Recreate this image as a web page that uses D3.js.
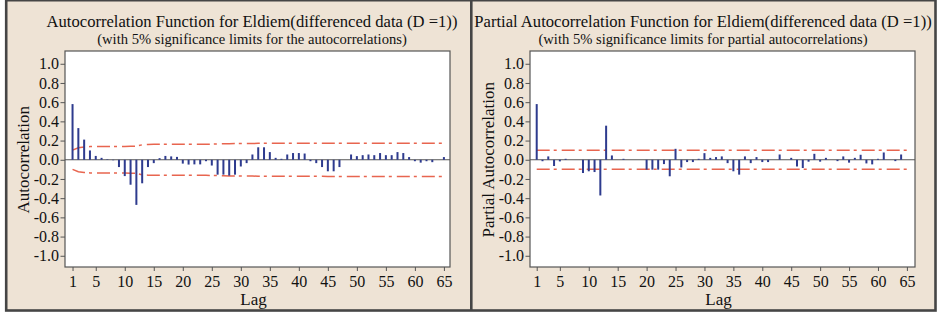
<!DOCTYPE html>
<html>
<head>
<meta charset="utf-8">
<script src="https://cdn.jsdelivr.net/npm/d3@7"></script>
<style>
    body { margin: 0; background: #fff; }
    svg { display: block; }
</style>
</head>
<body>
<div id="chart"></div>
<script>
const lags = d3.range(1, 66);

const acfValues = [
    0.58, 0.33, 0.21, 0.097, 0.04, 0.02, 0.005, -0.005, -0.076, -0.17,
    -0.26, -0.47, -0.245, -0.076, -0.035, 0.017, 0.04, 0.035, 0.03, -0.04,
    -0.05, -0.048, -0.048, -0.015, -0.06, -0.155, -0.155, -0.165, -0.155, -0.07,
    -0.035, 0.055, 0.13, 0.13, 0.08, 0.02, 0.01, 0.055, 0.07, 0.07,
    0.065, -0.015, -0.035, -0.076, -0.12, -0.12, -0.076, 0.0, 0.055, 0.038,
    0.048, 0.055, 0.048, 0.07, 0.048, 0.048, 0.08, 0.07, 0.028, -0.015,
    -0.03, -0.015, -0.025, 0.0, 0.028
];

// 5% limits for the ACF, read per lag (upper = +, lower = -)
const acfLimits = [
    0.10, 0.125, 0.133, 0.137, 0.138, 0.138, 0.138, 0.138, 0.138, 0.139,
    0.140, 0.142, 0.156, 0.160, 0.161, 0.162, 0.162, 0.162, 0.162, 0.162,
    0.162, 0.162, 0.162, 0.162, 0.163, 0.165, 0.167, 0.168, 0.169, 0.170,
    0.170, 0.170, 0.171, 0.172, 0.172, 0.172, 0.172, 0.172, 0.172, 0.172,
    0.172, 0.172, 0.172, 0.172, 0.173, 0.173, 0.173, 0.173, 0.173, 0.173,
    0.173, 0.173, 0.173, 0.173, 0.173, 0.173, 0.173, 0.173, 0.173, 0.173,
    0.173, 0.173, 0.173, 0.173, 0.173
];

const pacfValues = [
    0.58, -0.015, 0.035, -0.065, -0.017, 0.01, 0.0, 0.0, -0.138, -0.12,
    -0.128, -0.372, 0.355, 0.045, 0.0, 0.01, 0.0, 0.0, 0.0, -0.103,
    -0.103, -0.103, -0.045, -0.172, 0.114, -0.08, -0.024, -0.024, 0.01, 0.069,
    0.02, 0.028, 0.035, -0.035, -0.12, -0.155, 0.035, -0.035, 0.028, -0.024,
    -0.024, 0.0, 0.055, 0.0, 0.02, -0.07, -0.086, -0.02, 0.062, -0.02,
    0.02, 0.0, -0.014, 0.035, -0.03, 0.02, 0.052, -0.038, -0.048, 0.01,
    0.076, 0.0, -0.014, 0.055, 0.0
];

const pacfLimit = 0.1;

const xTicks = [1, 5, 10, 15, 20, 25, 30, 35, 40, 45, 50, 55, 60, 65];
const yTicks = [-1.0, -0.8, -0.6, -0.4, -0.2, 0.0, 0.2, 0.4, 0.6, 0.8, 1.0];

const width = 937, height = 314;
const fontFamily = '"Liberation Serif", "Times New Roman", serif';
const barColor = '#2e3b8e';
const limitColor = '#e8654f';

const svg = d3.select('#chart').append('svg')
    .attr('width', width)
    .attr('height', height);

// beige frame with the divider between the two panels
svg.append('rect')
    .attr('x', 6.2).attr('y', 0.2)
    .attr('width', 929.3).attr('height', 310.3)
    .attr('fill', '#eee3d5')
    .attr('stroke', '#454545')
    .attr('stroke-width', 2.6);
svg.append('line')
    .attr('x1', 471.3).attr('x2', 471.3)
    .attr('y1', 0).attr('y2', 311)
    .attr('stroke', '#454545')
    .attr('stroke-width', 2.6);

function addText(g, x, y, size, str) {
    return g.append('text')
        .attr('x', x).attr('y', y)
        .attr('text-anchor', 'middle')
        .style('font-family', fontFamily)
        .style('font-size', size)
        .attr('fill', '#111')
        .text(str);
}

function drawPanel(opts) {
    const { left, right, xDomain, values, limits, title, subtitle, yLabel, titleX, yLabelX } = opts;
    const top = 51, bottom = 267;

    const x = d3.scaleLinear().domain(xDomain).range([left, right]);
    const y = d3.scaleLinear().domain([-1.117, 1.133]).range([bottom, top]);

    const g = svg.append('g');

    addText(g, titleX, 27, '16.6px', title);
    addText(g, titleX, 44, '14.6px', subtitle);

    g.append('rect')
        .attr('x', left).attr('y', top)
        .attr('width', right - left).attr('height', bottom - top)
        .attr('fill', '#fff')
        .attr('stroke', '#555')
        .attr('stroke-width', 1.2);

    const yAxis = g.append('g')
        .attr('transform', `translate(${left},0)`)
        .call(d3.axisLeft(y).tickValues(yTicks).tickSize(4.5).tickPadding(1.5).tickFormat(d => d.toFixed(1)));
    yAxis.select('.domain').remove();
    yAxis.selectAll('line').attr('stroke', '#555');
    yAxis.selectAll('text')
        .style('font-family', fontFamily)
        .style('font-size', '16px')
        .attr('fill', '#111');

    const xAxis = g.append('g')
        .attr('transform', `translate(0,${bottom})`)
        .call(d3.axisBottom(x).tickValues(xTicks).tickSize(4).tickPadding(5));
    xAxis.select('.domain').remove();
    xAxis.selectAll('line').attr('stroke', '#555');
    xAxis.selectAll('text')
        .style('font-family', fontFamily)
        .style('font-size', '16px')
        .attr('fill', '#111');

    addText(g, (left + right) / 2 - 4, 305, '17px', 'Lag');

    addText(g, 0, 0, '17px', yLabel)
        .attr('transform', `translate(${yLabelX},${y(0)}) rotate(-90)`);

    // zero reference line
    g.append('line')
        .attr('x1', left).attr('x2', right)
        .attr('y1', y(0)).attr('y2', y(0))
        .attr('stroke', '#555')
        .attr('stroke-width', 1.2);

    // significance limits
    const limitLine = d3.line()
        .x(d => x(d.lag))
        .y(d => y(d.value));
    [1, -1].forEach(sign => {
        g.append('path')
            .datum(lags.map((lag, i) => ({ lag, value: sign * limits[i] })))
            .attr('fill', 'none')
            .attr('stroke', limitColor)
            .attr('stroke-width', 1.5)
            .attr('stroke-dasharray', '13,4,3,5')
            .attr('d', limitLine);
    });

    g.selectAll('.bar')
        .data(lags.map((lag, i) => ({ lag, value: values[i] })))
        .enter().append('rect')
        .attr('class', 'bar')
        .attr('x', d => x(d.lag) - 1)
        .attr('y', d => Math.min(y(0), y(d.value)))
        .attr('width', 2)
        .attr('height', d => Math.abs(y(d.value) - y(0)))
        .attr('fill', barColor);
}

drawPanel({
    left: 65, right: 450, xDomain: [-0.3, 66.05],
    values: acfValues, limits: acfLimits,
    title: 'Autocorrelation Function for Eldiem(differenced data (D =1))',
    subtitle: '(with 5% significance limits for the autocorrelations)',
    yLabel: 'Autocorrelation', titleX: 252, yLabelX: 29
});

drawPanel({
    left: 530, right: 915, xDomain: [-0.16, 66.4],
    values: pacfValues, limits: lags.map(() => pacfLimit),
    title: 'Partial Autocorrelation Function for Eldiem(differenced data (D =1))',
    subtitle: '(with 5% significance limits for partial autocorrelations)',
    yLabel: 'Partial Autocorrelation', titleX: 703, yLabelX: 494
});
</script>
</body>
</html>
